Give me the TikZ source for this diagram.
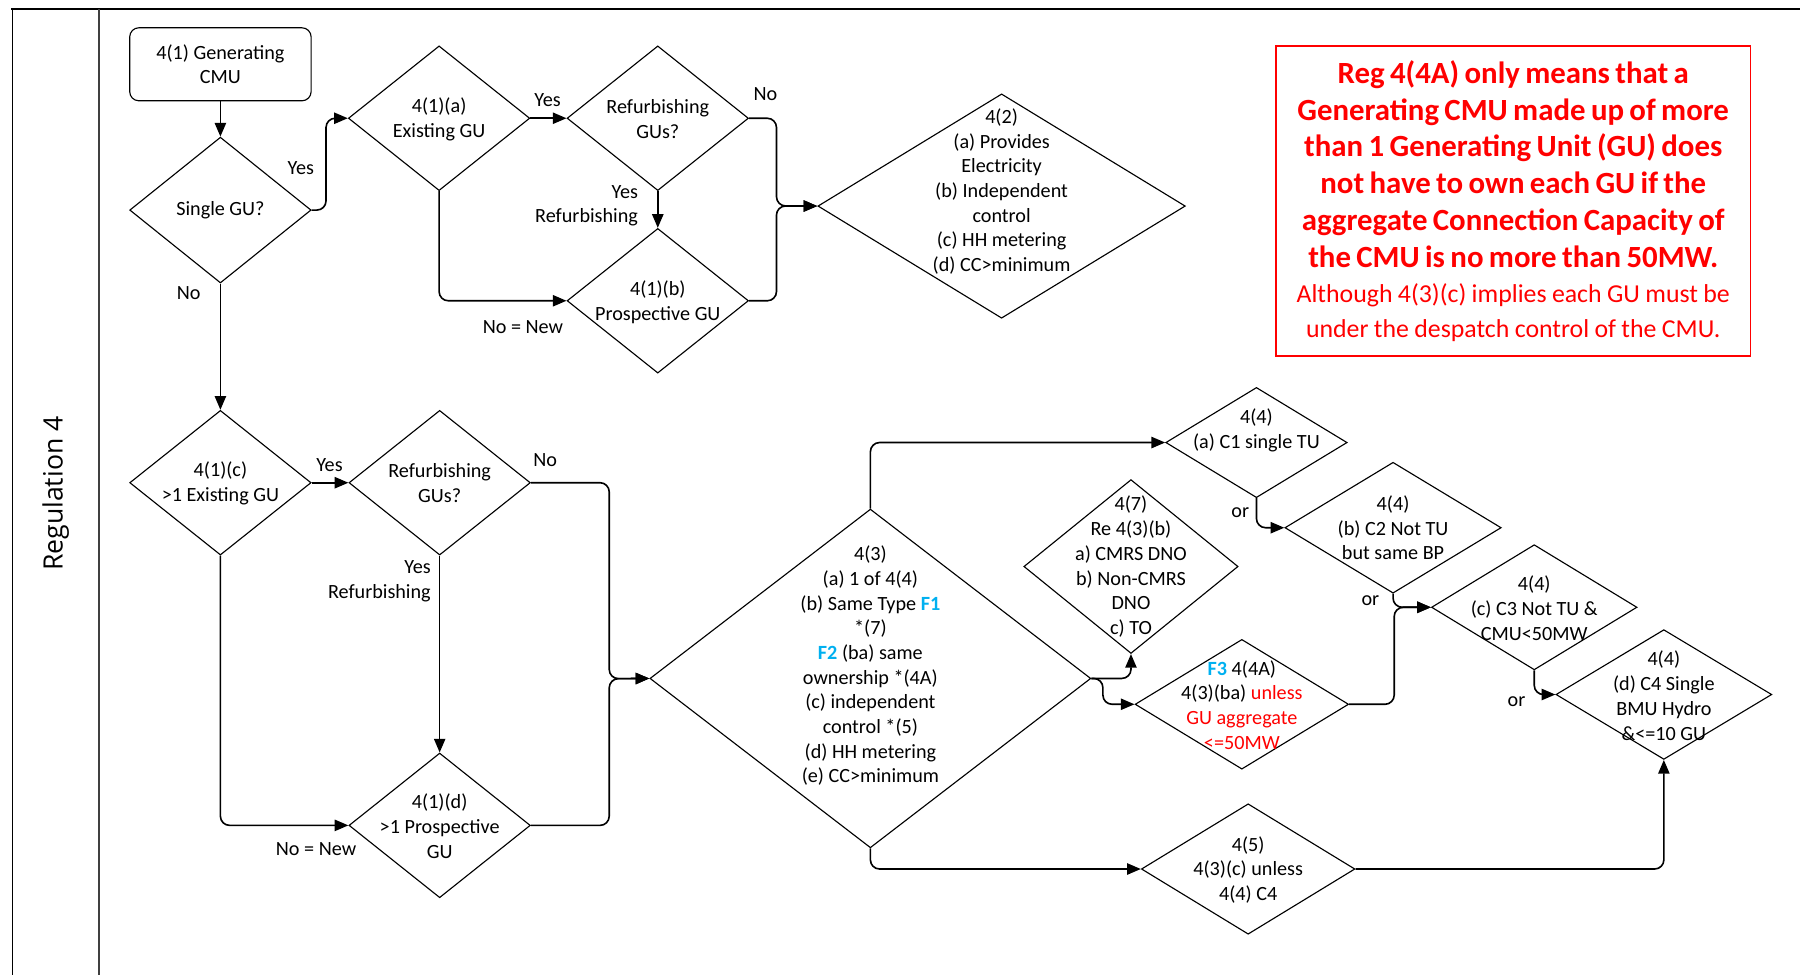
\documentclass[tikz,border=0pt]{standalone}
\usepackage{fontspec}
\setmainfont{Carlito}
\newfontfamily\lanefont{Open Sans}
\usetikzlibrary{shapes.geometric,arrows.meta}
\definecolor{fblue}{RGB}{0,176,240}
\definecolor{fred}{RGB}{255,0,0}
\newcommand{\fs}{\fontsize{12.5}{15.3}\selectfont}
\newcommand{\Fb}[1]{\textcolor{fblue}{\textbf{#1}}}
\newcommand{\rd}[1]{\textcolor{fred}{#1}}

\begin{document}
\begin{tikzpicture}[x=0.025cm, y=-0.025cm,
	dia/.style 2 args={diamond, draw, line width=0.7pt, minimum width=#1, minimum height=#2, inner sep=0pt},
	txt/.style={align=center, font=\fs, inner sep=0pt},
	lab/.style={font=\fs, inner sep=0pt},
	lnk/.style={line width=1pt, rounded corners=0.2cm, -{Triangle[length=8.5pt, width=7pt]}}]
	\useasboundingbox (0,0) rectangle (1568,849); % Rand wie Vorlage
	
	% Rahmen
	\draw[line width=1.4pt] (10,8) -- (1568,8);
	\draw[line width=1pt] (11,8) -- (11,849);
	\draw[line width=1pt, black!75] (86.5,8) -- (86.5,849);
	\node[font=\lanefont\fontsize{16.5}{20}\selectfont, rotate=90, inner sep=0pt] (lane) at (48.6,430) {Regulation 4};
	
	% oberer Teil
	\node[draw, rounded corners=0.2cm, line width=0.7pt, txt, minimum width=3.95cm, minimum height=1.59cm] (start) at (192,56) {4(1) Generating\\CMU};
	\node[dia={3.95cm}{3.175cm}] (single) at (192,183) {};
	\node[txt] (tsingle) at (192,183) {Single GU?};
	\node[dia={3.95cm}{3.15cm}] (exist) at (382.5,103) {};
	\node[txt] (texist) at (382.5,104) {4(1)(a)\\Existing GU};
	\node[dia={3.95cm}{3.15cm}] (refurbA) at (573,103) {};
	\node[txt] (trefurbA) at (573,103.5) {Refurbishing\\GUs?};
	\node[dia={3.95cm}{3.15cm}] (prosp) at (573,262) {};
	\node[txt] (tprosp) at (573,263) {4(1)(b)\\Prospective GU};
	\node[dia={8cm}{4.885cm}] (req42) at (872.5,179.5) {};
	\node[txt] (treq42) at (872.5,166.8) {4(2)\\(a) Provides\\Electricity\\(b) Independent\\control\\(c) HH metering\\(d) CC>minimum};
	
	% unterer Teil
	\node[dia={3.95cm}{3.15cm}] (existB) at (192,420.5) {};
	\node[txt] (texistB) at (192,421) {4(1)(c)\\>1 Existing GU};
	\node[dia={3.95cm}{3.15cm}] (refurbB) at (383,420.5) {};
	\node[txt] (trefurbB) at (383,421) {Refurbishing\\GUs?};
	\node[dia={3.95cm}{3.15cm}] (prospB) at (383,719) {};
	\node[txt] (tprospB) at (383,719.7) {4(1)(d)\\>1 Prospective\\GU};
	\node[dia={9.6cm}{7.375cm}] (req43) at (758.2,591) {};
	\node[txt] (treq43) at (758.2,580) {4(3)\\(a) 1 of 4(4)\\(b) Same Type \Fb{F1}\\{}*(7)\\\Fb{F2} (ba) same\\ownership *(4A)\\(c) independent\\control *(5)\\(d) HH metering\\(e) CC>minimum};
	\node[dia={4.665cm}{3.785cm}] (req47) at (985.2,493.5) {};
	\node[txt] (treq47) at (985.2,493.7) {4(7)\\Re 4(3)(b)\\a) CMRS DNO\\b) Non-CMRS\\DNO\\c) TO};
	\node[dia={4.65cm}{2.825cm}] (agg) at (1081.8,613.5) {};
	\node[txt] (tagg) at (1081.8,614) {\Fb{F3} 4(4A)\\4(3)(ba) \rd{unless}\\\rd{GU aggregate}\\\rd{<=50MW}};
	\node[dia={4.65cm}{2.84cm}] (req45) at (1087.3,757) {};
	\node[txt] (treq45) at (1087.3,757.7) {4(5)\\4(3)(c) unless\\4(4) C4};
	\node[dia={3.95cm}{2.4cm}] (cA) at (1094.5,385.5) {};
	\node[txt] (tcA) at (1094.5,374.8) {4(4)\\(a) C1 single TU};
	\node[dia={4.71cm}{2.85cm}] (cB) at (1213.5,459.7) {};
	\node[txt] (tcB) at (1213.5,459.7) {4(4)\\(b) C2 Not TU\\but same BP};
	\node[dia={4.475cm}{2.725cm}] (cC) at (1336.5,529) {};
	\node[txt] (tcC) at (1336.5,529.8) {4(4)\\(c) C3 Not TU \&\\CMU<50MW};
	\node[dia={4.7cm}{2.825cm}] (cD) at (1449.4,605) {};
	\node[txt] (tcD) at (1449.4,606) {4(4)\\(d) C4 Single\\BMU Hydro\\\&<=10 GU};
	
	% Hinweis
	\node[draw=fred, line width=1pt, text=fred, minimum width=10.325cm, minimum height=6.75cm, text width=10.3cm, align=center, inner sep=0pt] (note) at (1318.2,175) {\fontsize{19.1}{22.8}\selectfont\bfseries Reg 4(4A) only means that a\\ Generating CMU made up of more\\ than 1 Generating Unit (GU) does\\ not have to own each GU if the\\ aggregate Connection Capacity of\\ the CMU is no more than 50MW.\par \fontsize{16}{21.6}\selectfont\mdseries Although 4(3)(c) implies each GU must be\\ under the despatch control of the CMU.\par};
	
	% Beschriftungen
	\node[lab] (ly1) at (262,146.6) {Yes};
	\node[lab] (ln1) at (164.4,255.5) {No};
	\node[lab] (ly2) at (477,87) {Yes};
	\node[lab] (ln2) at (666.7,82) {No};
	\node[lab, align=right, anchor=east] (lr1) at (556,179.2) {Yes\\Refurbishing};
	\node[lab] (lnew1) at (455.5,285) {No = New};
	\node[lab] (ly3) at (287,405.4) {Yes};
	\node[lab] (ln3) at (475,400.4) {No};
	\node[lab, align=right, anchor=east] (lr2) at (375.5,506.2) {Yes\\Refurbishing};
	\node[lab] (lnew2) at (275.3,739.3) {No = New};
	\node[lab] (lor1) at (1080.4,446.5) {or};
	\node[lab] (lor2) at (1193.8,523.4) {or};
	\node[lab] (lor3) at (1321,611.5) {or};
	
	\coordinate (jA) at (676.4,179.4);
	\coordinate (jB) at (530.7,591.2);
	\coordinate (jC) at (1214.5,529);
	
	% Pfeile
	\draw[lnk] (start) -- (single);
	\draw[lnk] (single.east) -- ++(12.5,0) |- (exist.west);
	\draw[lnk] (exist) -- (refurbA);
	\draw[lnk] (refurbA) -- (prosp);
	\draw[lnk] (exist.south) |- (prosp.west);
	\draw[lnk] (refurbA.east) -| (jA) -- (req42.west);
	\draw[lnk] (prosp.east) -| (jA) -- (req42.west);
	\draw[lnk] (single) -- (existB);
	\draw[lnk] (existB) -- (refurbB);
	\draw[lnk] (refurbB) -- (prospB);
	\draw[lnk] (existB.south) |- (prospB.west);
	\draw[lnk] (refurbB.east) -| (jB) -- (req43.west);
	\draw[lnk] (prospB.east) -| (jB) -- (req43.west);
	\draw[lnk] (req43.north) |- (cA.west);
	\draw[lnk] (req43.south) |- (req45.west);
	\draw[lnk] (req43.east) -| (req47.south);
	\draw[lnk] (req43.east) -- ++(10,0) |- (agg.west);
	\draw[lnk] (cA.south) |- (cB.west);
	\draw[lnk] (cB.south) |- (cC.west);
	\draw[lnk] (agg.east) -| (jC) -- (cC.west);
	\draw[lnk] (cC.south) |- (cD.west);
	\draw[lnk] (req45.east) -| (cD.south);
\end{tikzpicture}
\end{document}
